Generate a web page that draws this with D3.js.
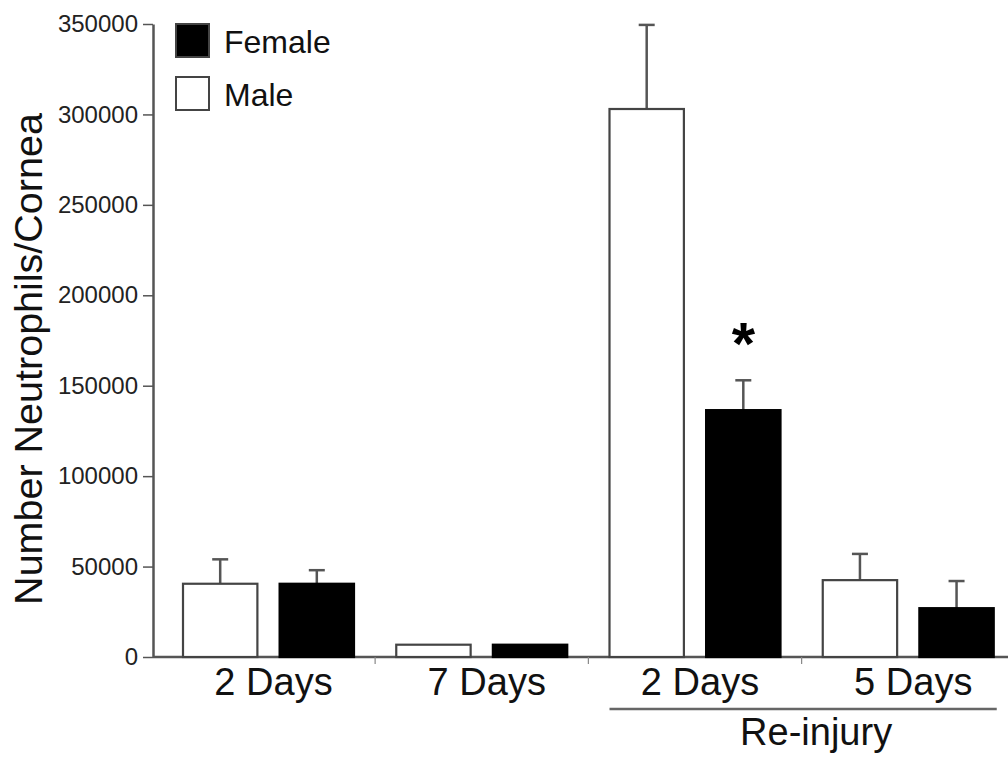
<!DOCTYPE html>
<html>
<head>
<meta charset="utf-8">
<script src="https://cdn.jsdelivr.net/npm/d3@7"></script>
<style>
  body { margin: 0; background: #fff; }
  svg { display: block; font-family: Arial, "Liberation Sans", sans-serif; }
</style>
</head>
<body>
<div class="graph"></div>
<script>
// data
const groups = ["g2d", "g7d", "r2d", "r5d"];
const groupLabels = ["2 Days", "7 Days", "2 Days", "5 Days"];
const sexes = ["Male", "Female"];
const maleMean = [40500, 6800, 303000, 42500];
const maleErr = [13500, 0, 46500, 14500];
const femaleMean = [40500, 6800, 136500, 27000];
const femaleErr = [7500, 0, 16500, 15000];
const significant = ["r2d"]; // female marked with *
const yTicks = [0, 50000, 100000, 150000, 200000, 250000, 300000, 350000];

let width = 1008, height = 757;
let axisCol = "#555";

let svg = d3.select(".graph").append("svg")
    .attr("width", width)
    .attr("height", height);

let y = d3.scaleLinear().domain([0, 350000]).range([657, 24]);
let x0 = d3.scaleBand().domain(groups).range([159, 1012]).paddingInner(0).paddingOuter(0);
let x1 = d3.scaleBand().domain(sexes).range([24, 195]).paddingInner(0.23).paddingOuter(0);

let rows = [];
groups.forEach((g, i) => {
    rows.push({g: g, sex: "Male", v: maleMean[i], e: maleErr[i]});
    rows.push({g: g, sex: "Female", v: femaleMean[i], e: femaleErr[i]});
});

// y axis
let yAxis = svg.append("g")
    .attr("transform", "translate(153,0)")
    .call(d3.axisLeft(y).tickValues(yTicks).tickFormat(d3.format("d"))
        .tickSize(10).tickSizeOuter(0).tickPadding(5));
yAxis.select(".domain").attr("stroke", axisCol).attr("stroke-width", 2.5);
yAxis.selectAll(".tick line").attr("stroke", axisCol).attr("stroke-width", 1.5);
yAxis.selectAll(".tick text").attr("fill", "#222").style("font-size", "24px");

// x axis line and separators halfway between neighbouring groups
svg.append("line")
    .attr("x1", 153).attr("x2", width)
    .attr("y1", y(0)).attr("y2", y(0))
    .attr("stroke", axisCol).attr("stroke-width", 2.5);
let sepX = (d, i) => {
    let prev = groups[i];
    return (x0(prev) + x1("Female") + x1.bandwidth() + x0(d) + x1("Male")) / 2;
};
svg.selectAll(".xtick")
    .data(groups.slice(1))
    .join("line")
    .attr("class", "xtick")
    .attr("x1", sepX).attr("x2", sepX)
    .attr("y1", y(0)).attr("y2", y(0) + 7)
    .attr("stroke", "#888").attr("stroke-width", 1.2);

// error bars (drawn first, bars cover the lower half)
let errs = svg.append("g").selectAll("g")
    .data(rows.filter(d => d.e > 0))
    .join("g");
errs.append("line")
    .attr("x1", d => x0(d.g) + x1(d.sex) + x1.bandwidth() / 2)
    .attr("x2", d => x0(d.g) + x1(d.sex) + x1.bandwidth() / 2)
    .attr("y1", d => y(d.v))
    .attr("y2", d => y(d.v + d.e))
    .attr("stroke", axisCol).attr("stroke-width", 2.5);
errs.append("line")
    .attr("x1", d => x0(d.g) + x1(d.sex) + x1.bandwidth() / 2 - 8)
    .attr("x2", d => x0(d.g) + x1(d.sex) + x1.bandwidth() / 2 + 8)
    .attr("y1", d => y(d.v + d.e))
    .attr("y2", d => y(d.v + d.e))
    .attr("stroke", axisCol).attr("stroke-width", 2.5);

// bars
svg.append("g").selectAll("rect")
    .data(rows)
    .join("rect")
    .attr("x", d => x0(d.g) + x1(d.sex))
    .attr("y", d => y(d.v))
    .attr("width", x1.bandwidth())
    .attr("height", d => y(0) - y(d.v))
    .attr("fill", d => d.sex === "Female" ? "#000" : "#fff")
    .attr("stroke", d => d.sex === "Female" ? "#000" : "#444")
    .attr("stroke-width", 2.2);

// significance star
svg.selectAll(".star")
    .data(rows.filter(d => d.sex === "Female" && significant.includes(d.g)))
    .join("text")
    .attr("class", "star")
    .attr("x", d => x0(d.g) + x1(d.sex) + x1.bandwidth() / 2)
    .attr("y", d => y(d.v + d.e) - 16)
    .attr("text-anchor", "middle")
    .style("font-size", "60px")
    .style("font-weight", "bold")
    .text("*");

// category labels
svg.selectAll(".glabel")
    .data(groups)
    .join("text")
    .attr("class", "glabel")
    .attr("x", (d, i) => x0(d) + (x1("Male") + x1("Female") + x1.bandwidth()) / 2 + 5)
    .attr("y", 695)
    .attr("text-anchor", "middle")
    .style("font-size", "38px")
    .attr("fill", "#111")
    .text((d, i) => groupLabels[i]);

// re-injury bracket
let rx1 = x0("r2d") + x1("Male"),
    rx2 = x0("r5d") + x1("Female") + x1.bandwidth() + 3;
svg.append("line")
    .attr("x1", rx1).attr("x2", rx2)
    .attr("y1", 709).attr("y2", 709)
    .attr("stroke", "#666").attr("stroke-width", 2.5);
svg.append("text")
    .attr("x", (rx1 + rx2) / 2 + 13)
    .attr("y", 745)
    .attr("text-anchor", "middle")
    .style("font-size", "38px")
    .attr("fill", "#111")
    .text("Re-injury");

// y title
svg.append("text")
    .attr("transform", "translate(42,359) rotate(-90)")
    .attr("text-anchor", "middle")
    .style("font-size", "39.5px")
    .attr("fill", "#111")
    .text("Number Neutrophils/Cornea");

// legend
let legend = svg.append("g").selectAll("g")
    .data(["Female", "Male"])
    .join("g")
    .attr("transform", (d, i) => "translate(176," + (24 + i * 53) + ")");
legend.append("rect")
    .attr("width", 33).attr("height", 33)
    .attr("fill", d => d === "Female" ? "#000" : "#fff")
    .attr("stroke", "#444").attr("stroke-width", 2);
legend.append("text")
    .attr("x", 48).attr("y", 29)
    .style("font-size", "32px")
    .attr("fill", "#111")
    .text(d => d);
</script>
</body>
</html>
